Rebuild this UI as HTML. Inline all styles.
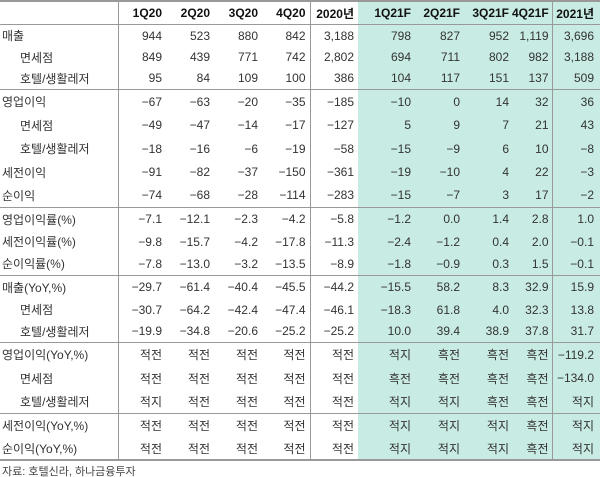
<!DOCTYPE html>
<html><head><meta charset="utf-8"><style>
html,body{margin:0;padding:0;background:#fff;width:600px;height:477px;overflow:hidden}
body{font-family:"Liberation Sans","Noto Sans CJK KR",sans-serif;font-size:12px;color:#333;position:relative}
.shade{position:absolute;left:358px;top:2px;width:242px;height:458px;background:#c8ebe4}
table{position:absolute;left:0;top:0;border-collapse:collapse;width:600px;table-layout:fixed}
td{padding:0 4px 0 0;text-align:right;white-space:nowrap;overflow:visible}
td.l{text-align:left;padding-left:2px}
td.i{text-align:left;padding-left:20px}
td:nth-child(1),td:nth-child(5),td:nth-child(10){border-right:1px solid #999}
td:nth-child(6){padding-right:4px}
td:nth-child(7),td:nth-child(8),td:nth-child(9),td:nth-child(10){padding-right:3px}
td:nth-child(11){padding-right:6px}
tr.h td{font-weight:bold;color:#111;height:22px;border-top:2px solid #999;border-bottom:1px solid #999}
tr.s td{border-top:1px solid #999}
tr.b td{border-bottom:2px solid #999}
.src{position:absolute;left:2px;top:463px;font-size:11px;color:#444}
</style></head><body>
<div class="shade"></div>
<table>
<colgroup><col style="width:118px"><col style="width:48px"><col style="width:48px"><col style="width:48px"><col style="width:48px"><col style="width:48px"><col style="width:56px"><col style="width:49px"><col style="width:49px"><col style="width:40px"><col style="width:48px"></colgroup>
<tr class="h"><td></td><td>1Q20</td><td>2Q20</td><td>3Q20</td><td>4Q20</td><td>2020년</td><td>1Q21F</td><td>2Q21F</td><td>3Q21F</td><td>4Q21F</td><td>2021년</td></tr>
<tr style="height:22px"><td class="l">매출</td><td>944</td><td>523</td><td>880</td><td>842</td><td>3,188</td><td>798</td><td>827</td><td>952</td><td>1,119</td><td>3,696</td></tr>
<tr style="height:21px"><td class="i">면세점</td><td>849</td><td>439</td><td>771</td><td>742</td><td>2,802</td><td>694</td><td>711</td><td>802</td><td>982</td><td>3,188</td></tr>
<tr style="height:22px"><td class="i">호텔/생활레저</td><td>95</td><td>84</td><td>109</td><td>100</td><td>386</td><td>104</td><td>117</td><td>151</td><td>137</td><td>509</td></tr>
<tr class="s" style="height:24px"><td class="l">영업이익</td><td>−67</td><td>−63</td><td>−20</td><td>−35</td><td>−185</td><td>−10</td><td>0</td><td>14</td><td>32</td><td>36</td></tr>
<tr style="height:23px"><td class="i">면세점</td><td>−49</td><td>−47</td><td>−14</td><td>−17</td><td>−127</td><td>5</td><td>9</td><td>7</td><td>21</td><td>43</td></tr>
<tr style="height:24px"><td class="i">호텔/생활레저</td><td>−18</td><td>−16</td><td>−6</td><td>−19</td><td>−58</td><td>−15</td><td>−9</td><td>6</td><td>10</td><td>−8</td></tr>
<tr style="height:23px"><td class="l">세전이익</td><td>−91</td><td>−82</td><td>−37</td><td>−150</td><td>−361</td><td>−19</td><td>−10</td><td>4</td><td>22</td><td>−3</td></tr>
<tr style="height:24px"><td class="l">순이익</td><td>−74</td><td>−68</td><td>−28</td><td>−114</td><td>−283</td><td>−15</td><td>−7</td><td>3</td><td>17</td><td>−2</td></tr>
<tr class="s" style="height:23px"><td class="l">영업이익률(%)</td><td>−7.1</td><td>−12.1</td><td>−2.3</td><td>−4.2</td><td>−5.8</td><td>−1.2</td><td>0.0</td><td>1.4</td><td>2.8</td><td>1.0</td></tr>
<tr style="height:22px"><td class="l">세전이익률(%)</td><td>−9.8</td><td>−15.7</td><td>−4.2</td><td>−17.8</td><td>−11.3</td><td>−2.4</td><td>−1.2</td><td>0.4</td><td>2.0</td><td>−0.1</td></tr>
<tr style="height:23px"><td class="l">순이익률(%)</td><td>−7.8</td><td>−13.0</td><td>−3.2</td><td>−13.5</td><td>−8.9</td><td>−1.8</td><td>−0.9</td><td>0.3</td><td>1.5</td><td>−0.1</td></tr>
<tr class="s" style="height:23px"><td class="l">매출(YoY,%)</td><td>−29.7</td><td>−61.4</td><td>−40.4</td><td>−45.5</td><td>−44.2</td><td>−15.5</td><td>58.2</td><td>8.3</td><td>32.9</td><td>15.9</td></tr>
<tr style="height:22px"><td class="i">면세점</td><td>−30.7</td><td>−64.2</td><td>−42.4</td><td>−47.4</td><td>−46.1</td><td>−18.3</td><td>61.8</td><td>4.0</td><td>32.3</td><td>13.8</td></tr>
<tr style="height:22px"><td class="i">호텔/생활레저</td><td>−19.9</td><td>−34.8</td><td>−20.6</td><td>−25.2</td><td>−25.2</td><td>10.0</td><td>39.4</td><td>38.9</td><td>37.8</td><td>31.7</td></tr>
<tr class="s" style="height:24px"><td class="l">영업이익(YoY,%)</td><td>적전</td><td>적전</td><td>적전</td><td>적전</td><td>적전</td><td>적지</td><td>흑전</td><td>흑전</td><td>흑전</td><td>−119.2</td></tr>
<tr style="height:23px"><td class="i">면세점</td><td>적전</td><td>적전</td><td>적전</td><td>적전</td><td>적전</td><td>흑전</td><td>흑전</td><td>흑전</td><td>흑전</td><td>−134.0</td></tr>
<tr style="height:24px"><td class="i">호텔/생활레저</td><td>적지</td><td>적전</td><td>적전</td><td>적전</td><td>적전</td><td>적지</td><td>적지</td><td>흑전</td><td>흑전</td><td>적지</td></tr>
<tr class="s" style="height:24px"><td class="l">세전이익(YoY,%)</td><td>적전</td><td>적전</td><td>적전</td><td>적전</td><td>적전</td><td>적지</td><td>적지</td><td>적지</td><td>흑전</td><td>적지</td></tr>
<tr class="b" style="height:22px"><td class="l">순이익(YoY,%)</td><td>적전</td><td>적전</td><td>적전</td><td>적전</td><td>적전</td><td>적지</td><td>적지</td><td>적지</td><td>흑전</td><td>적지</td></tr>
</table>
<div class="src">자료: 호텔신라, 하나금융투자</div>
</body></html>
